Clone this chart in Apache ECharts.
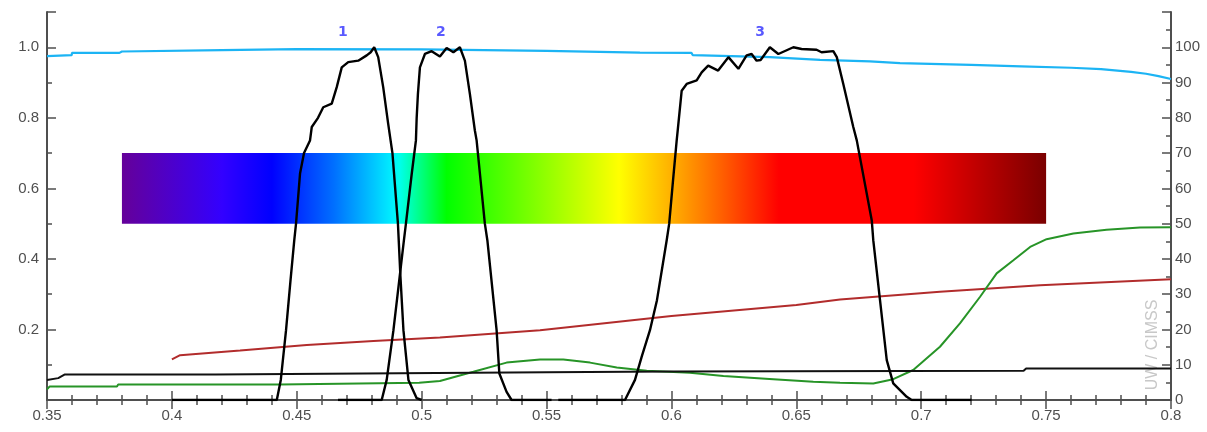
<!DOCTYPE html>
<html>
<head>
<meta charset="utf-8">
<script src="https://cdn.jsdelivr.net/npm/echarts/dist/echarts.min.js"></script>
<style>
  html, body { margin: 0; padding: 0; background: #fff; }
  #chart { width: 1207px; height: 432px; }
</style>
</head>
<body>
<div id="chart"></div>
<script>
// wavelength (um) vs relative response; the 3 filter bands use the left axis
const band1 = [
  [0.400, 0], [0.442, 0], [0.4436, 0.057], [0.4457, 0.198], [0.4475, 0.34], [0.449, 0.453],
  [0.4497, 0.5], [0.4513, 0.642], [0.4529, 0.70], [0.4553, 0.736], [0.456, 0.774], [0.4585, 0.80],
  [0.4606, 0.83], [0.464, 0.84], [0.466, 0.887], [0.468, 0.943], [0.4706, 0.958], [0.4746, 0.962],
  [0.478, 0.977], [0.4796, 0.986], [0.481, 1.0], [0.4826, 0.972], [0.4846, 0.887], [0.4866, 0.783],
  [0.4883, 0.70], [0.4905, 0.5], [0.4915, 0.35], [0.4927, 0.198], [0.4947, 0.057], [0.498, 0.005], [0.500, 0]
]
const band2 = [
  [0.4665, 0], [0.484, 0], [0.486, 0.057], [0.4887, 0.198], [0.4929, 0.453], [0.4937, 0.5],
  [0.496, 0.64], [0.4977, 0.736], [0.498, 0.80], [0.4985, 0.868], [0.4993, 0.943], [0.5013, 0.981],
  [0.504, 0.989], [0.5073, 0.974], [0.510, 0.998], [0.5127, 0.986], [0.5153, 1.0], [0.5173, 0.962],
  [0.5193, 0.868], [0.5213, 0.764], [0.522, 0.736], [0.5253, 0.5], [0.5263, 0.453], [0.530, 0.198],
  [0.5311, 0.075], [0.534, 0.023], [0.536, 0], [0.552, 0]
]
const band3 = [
  [0.5547, 0], [0.5814, 0], [0.5854, 0.057], [0.5881, 0.123], [0.5914, 0.198], [0.5942, 0.283],
  [0.5981, 0.453], [0.5991, 0.5], [0.6006, 0.62], [0.6021, 0.736], [0.6025, 0.764], [0.6041, 0.877],
  [0.6061, 0.896], [0.6101, 0.906], [0.6121, 0.929], [0.6147, 0.948], [0.6187, 0.934], [0.6228, 0.972],
  [0.6268, 0.939], [0.6301, 0.977], [0.6321, 0.981], [0.6341, 0.962], [0.6357, 0.964], [0.6394, 1.0],
  [0.6428, 0.981], [0.6488, 1.0], [0.6521, 0.995], [0.6581, 0.993], [0.6601, 0.986], [0.6648, 0.989],
  [0.6662, 0.972], [0.6688, 0.896], [0.6728, 0.774], [0.6742, 0.736], [0.6802, 0.509], [0.6808, 0.453],
  [0.6835, 0.283], [0.6862, 0.113], [0.6888, 0.047], [0.6942, 0.009], [0.6962, 0], [0.7202, 0]
]
// percent curves, right axis
const cyanLine = [
  [0.35, 97.5], [0.3599, 97.8], [0.360, 98.4], [0.379, 98.4], [0.380, 98.8], [0.42, 99.2],
  [0.45, 99.5], [0.50, 99.4], [0.55, 99.0], [0.5874, 98.5], [0.608, 98.4], [0.6085, 97.8],
  [0.6394, 97.2], [0.6595, 96.4], [0.6795, 96.0], [0.6915, 95.5], [0.72, 95.0], [0.74, 94.6],
  [0.76, 94.2], [0.772, 93.8], [0.784, 93.0], [0.79, 92.5], [0.795, 91.8], [0.80, 91.0]
]
const redLine = [
  [0.400, 11.5], [0.4033, 12.7], [0.4273, 14.0], [0.454, 15.6], [0.4807, 16.7], [0.5073, 17.7],
  [0.5474, 19.8], [0.60, 23.8], [0.65, 26.9], [0.6675, 28.5], [0.7075, 30.7], [0.7476, 32.5], [0.80, 34.2]
]
const greenLine = [
  [0.35, 3.0], [0.351, 3.8], [0.378, 3.8], [0.3785, 4.4], [0.443, 4.4], [0.4435, 4.9], [0.499, 4.9],
  [0.4995, 5.3], [0.5073, 5.4], [0.5207, 8.0], [0.534, 10.6], [0.5474, 11.5], [0.5567, 11.5],
  [0.5674, 10.6], [0.5781, 9.2], [0.5901, 8.3], [0.6074, 7.7], [0.6208, 6.8], [0.6408, 5.9],
  [0.6568, 5.2], [0.6675, 4.9], [0.6808, 4.7], [0.6888, 5.9], [0.6968, 8.5], [0.7075, 15.1],
  [0.7155, 21.7], [0.7235, 29.2], [0.7302, 35.9], [0.7369, 39.6], [0.7436, 43.4], [0.7502, 45.6],
  [0.7609, 47.2], [0.7742, 48.3], [0.7876, 48.9], [0.80, 49.0]
]
const blackLine = [
  [0.35, 5.7], [0.3545, 6.2], [0.357, 7.2], [0.4175, 7.2], [0.418, 7.7], [0.55, 7.9],
  [0.60, 8.1], [0.741, 8.3], [0.742, 8.96], [0.80, 8.96]
]
// visible spectrum strip: wavelength extent, left-axis extent, colour stops
const spectrumRange = [0.38, 0.75]
const spectrumBand = [0.5, 0.7]
const spectrumStops = [
  [0.38, '#650099'], [0.42, '#3300ff'], [0.44, '#0000ff'], [0.465, '#0070ff'], [0.488, '#00eeff'],
  [0.491, '#00ffee'], [0.51, '#00ff00'], [0.545, '#80ff00'], [0.579, '#ffff00'], [0.60, '#ffb000'],
  [0.62, '#ff6000'], [0.643, '#ff0000'], [0.697, '#ff0000'], [0.75, '#7a0000']
]
const bandLabels = [[0.4685, 1.042, '1'], [0.5077, 1.042, '2'], [0.6355, 1.042, '3']]

const labelFont = "'Liberation Sans Narrow', 'Liberation Sans', Arial, sans-serif"
const axisGray = '#4f4f4f'

const chart = echarts.init(document.getElementById('chart'))

const xCommon = {
  type: 'value',
  min: 0.35,
  max: 0.8,
  interval: 0.05,
  axisLine: { lineStyle: { color: axisGray, width: 2 } },
  axisTick: { inside: true, length: 9, lineStyle: { color: axisGray, width: 1.5 } },
  minorTick: { show: true, splitNumber: 5, length: 5, lineStyle: { color: axisGray, width: 1.5 } },
  splitLine: { show: false }
}

const option = {
  animation: false,
  backgroundColor: '#fff',
  grid: { left: 47, right: 36, top: 12, bottom: 32, containLabel: false },
  graphic: [{
    type: 'text',
    x: 1153,
    y: 345,
    rotation: Math.PI / 2,
    style: {
      text: 'UW / CIMSS',
      fill: '#c8c8c8',
      font: "16px 'Liberation Sans', Arial, sans-serif",
      align: 'center',
      verticalAlign: 'middle',
      textAlign: 'center',
      textVerticalAlign: 'middle'
    }
  }],
  xAxis: [
    Object.assign({}, xCommon, {
      position: 'bottom',
      axisLabel: { color: axisGray, fontSize: 15, fontFamily: labelFont, margin: 8 }
    }),
    Object.assign({}, xCommon, {
      position: 'top',
      axisLabel: { show: false }
    })
  ],
  yAxis: [
    {
      type: 'value',
      position: 'left',
      min: 0,
      max: 1.1,
      interval: 0.2,
      axisLine: { show: true, lineStyle: { color: axisGray, width: 2 } },
      axisTick: { show: true, inside: true, length: 9, lineStyle: { color: axisGray, width: 1.5 } },
      minorTick: { show: true, splitNumber: 2, length: 5, lineStyle: { color: axisGray, width: 1.5 } },
      splitLine: { show: false },
      axisLabel: {
        color: axisGray, fontSize: 15, fontFamily: labelFont, margin: 8,
        formatter: v => (v === 0 || v > 1.05) ? '' : v.toFixed(1)
      }
    },
    {
      type: 'value',
      position: 'right',
      min: 0,
      max: 110,
      interval: 10,
      axisLine: { show: true, lineStyle: { color: axisGray, width: 2 } },
      axisTick: { show: true, inside: true, length: 9, lineStyle: { color: axisGray, width: 1.5 } },
      minorTick: { show: true, splitNumber: 2, length: 5, lineStyle: { color: axisGray, width: 1.5 } },
      splitLine: { show: false },
      axisLabel: {
        color: axisGray, fontSize: 15, fontFamily: labelFont, margin: 4,
        formatter: v => v > 105 ? '' : String(v)
      }
    }
  ],
  series: [
    {
      name: 'spectrum',
      type: 'custom',
      xAxisIndex: 0,
      yAxisIndex: 0,
      silent: true,
      z: 1,
      encode: { x: [0, 2], y: [1, 3] },
      data: [[spectrumRange[0], spectrumBand[0], spectrumRange[1], spectrumBand[1]]],
      renderItem: (params, api) => {
        const p0 = api.coord([api.value(0), api.value(3)])
        const p1 = api.coord([api.value(2), api.value(1)])
        const span = spectrumRange[1] - spectrumRange[0]
        const stops = spectrumStops.map(s => ({ offset: (s[0] - spectrumRange[0]) / span, color: s[1] }))
        return {
          type: 'rect',
          shape: { x: p0[0], y: p0[1], width: p1[0] - p0[0], height: p1[1] - p0[1] },
          style: { fill: new echarts.graphic.LinearGradient(0, 0, 1, 0, stops) }
        }
      }
    },
    {
      name: 'cyan', type: 'line', yAxisIndex: 1, data: cyanLine, showSymbol: false, z: 3,
      lineStyle: { color: '#1cb4f4', width: 2.2 }
    },
    {
      name: 'red', type: 'line', yAxisIndex: 1, data: redLine, showSymbol: false, z: 3,
      lineStyle: { color: '#b22c2c', width: 2 }
    },
    {
      name: 'green', type: 'line', yAxisIndex: 1, data: greenLine, showSymbol: false, z: 3,
      lineStyle: { color: '#279427', width: 2 }
    },
    {
      name: 'flat', type: 'line', yAxisIndex: 1, data: blackLine, showSymbol: false, z: 3,
      lineStyle: { color: '#111', width: 2 }
    },
    {
      name: 'band1', type: 'line', yAxisIndex: 0, data: band1, showSymbol: false, z: 4,
      lineStyle: { color: '#000', width: 2.4 }
    },
    {
      name: 'band2', type: 'line', yAxisIndex: 0, data: band2, showSymbol: false, z: 4,
      lineStyle: { color: '#000', width: 2.4 }
    },
    {
      name: 'band3', type: 'line', yAxisIndex: 0, data: band3, showSymbol: false, z: 4,
      lineStyle: { color: '#000', width: 2.4 }
    },
    {
      name: 'labels', type: 'scatter', yAxisIndex: 0, data: bandLabels, symbolSize: 0, z: 5,
      label: {
        show: true, position: 'inside', formatter: p => p.value[2],
        color: '#2f2fff', fontWeight: 'bold', fontSize: 14, fontFamily: "'DejaVu Sans', sans-serif"
      }
    }
  ]
}

chart.setOption(option)
</script>
</body>
</html>
